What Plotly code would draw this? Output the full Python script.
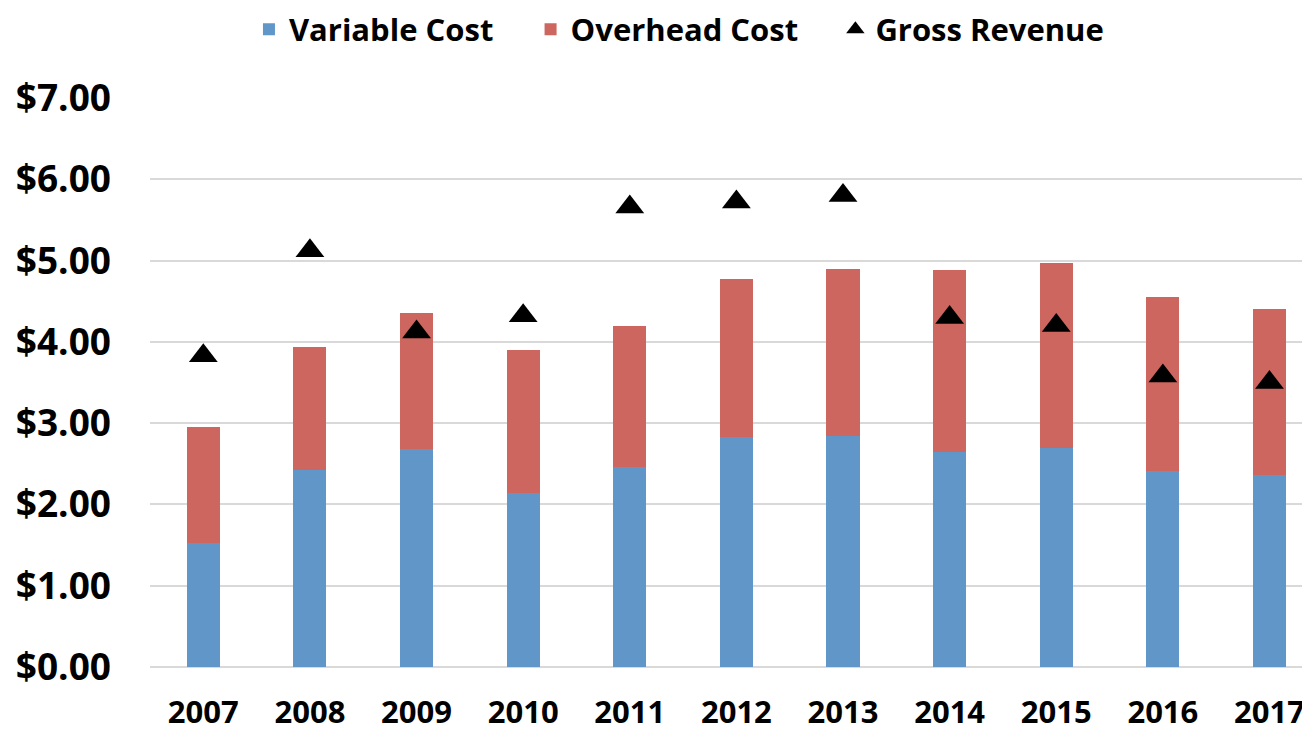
import plotly.graph_objects as go

years = ["2007", "2008", "2009", "2010", "2011", "2012", "2013", "2014", "2015", "2016", "2017"]
variable_cost = [1.52, 2.42, 2.68, 2.14, 2.46, 2.83, 2.84, 2.64, 2.69, 2.41, 2.36]
overhead_cost = [1.43, 1.52, 1.68, 1.76, 1.73, 1.94, 2.06, 2.24, 2.28, 2.14, 2.04]
gross_revenue = [3.83, 5.12, 4.12, 4.32, 5.66, 5.72, 5.80, 4.30, 4.20, 3.58, 3.50]
y_ticks = [0, 1, 2, 3, 4, 5, 6, 7]

FONT = "Open Sans"
PAD = "\u00a0" * 4  # widen the gap between legend entries

fig = go.Figure()
fig.add_trace(go.Bar(x=years, y=variable_cost, name="Variable Cost" + PAD,
                     marker=dict(color="#6196C9", line=dict(width=0)), width=0.31))
fig.add_trace(go.Bar(x=years, y=overhead_cost, name="Overhead Cost" + PAD,
                     marker=dict(color="#CD665F", line=dict(width=0)), width=0.31))
fig.add_trace(go.Scatter(x=years, y=gross_revenue, name="Gross Revenue", mode="markers",
                         marker=dict(symbol="triangle-up", color="black", size=25)))

# page body has an 8px margin, so the figure is sized a bit smaller than the window
fig.update_layout(
    barmode="stack",
    width=1302, height=725,
    margin=dict(l=142, r=0, t=90, b=66, autoexpand=False),
    plot_bgcolor="white", paper_bgcolor="white",
    font=dict(family=FONT, color="black"),
    showlegend=True,
    legend=dict(orientation="h", x=0.456, xanchor="center", y=1.12, yanchor="middle",
                font=dict(family=FONT, size=31, color="black", weight="bold"),
                traceorder="normal", itemwidth=30),
    xaxis=dict(type="category", range=[-0.5, 10.38], showgrid=False, showline=False,
               ticks="", ticklabelstandoff=24, automargin=False,
               tickfont=dict(family=FONT, size=31, color="black", weight="bold")),
    yaxis=dict(range=[0, 7], tickvals=y_ticks, tickformat="$.2f", showgrid=True,
               gridcolor="#D9D9D9", gridwidth=2, zeroline=True, zerolinecolor="#D9D9D9",
               zerolinewidth=2, showline=False, ticks="", ticklabelstandoff=38,
               automargin=False,
               tickfont=dict(family=FONT, size=37, color="black", weight="bold")),
)

fig.write_html("out.html")
